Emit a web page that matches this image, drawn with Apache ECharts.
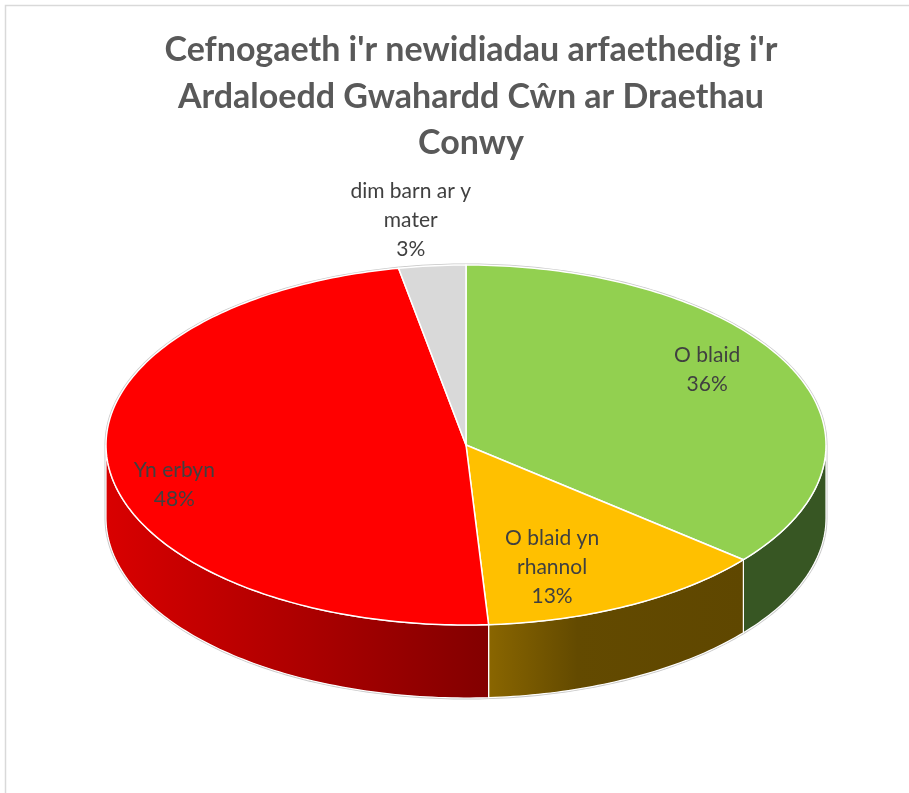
<!DOCTYPE html>
<html><head><meta charset="utf-8">
<script src="https://cdn.jsdelivr.net/npm/echarts@6/dist/echarts.min.js"></script>
<style>html,body{margin:0;padding:0;background:#fff}#c{width:909px;height:793px}</style>
</head><body><div id="c"></div>
<script>
// ---- data ----
const titleText = "Cefnogaeth i'r newidiadau arfaethedig i'r\nArdaloedd Gwahardd Cŵn ar Draethau\nConwy";
const categories = ['O blaid', 'O blaid yn rhannol', 'Yn erbyn', 'dim barn ar y mater'];
const labelTexts = ['O blaid', 'O blaid yn\nrhannol', 'Yn erbyn', 'dim barn ar y\nmater'];
const values = [36, 13, 48, 3];

// ---- styles / layout ----
const topColors = ['#92D050', '#FFC000', '#FF0000', '#D9D9D9'];
const sideFills = [
  '#375623',
  {type:'linear', x:0, y:0, x2:1, y2:0, colorStops:[{offset:0,color:'#8A6600'},{offset:0.35,color:'#634A00'},{offset:1,color:'#5F4700'}]},
  {type:'linear', x:0, y:0, x2:1, y2:0, colorStops:[{offset:0,color:'#D90000'},{offset:1,color:'#820000'}]},
  '#A6A6A6'
];
// label anchor: [angle from top clockwise (deg), radius fraction]
const labelAnchor = [[58, 0.79], [160.6, 0.72], [254.7, 0.84], [353, 1.26]];
const cx = 466, cy = 445, rx = 360, ry = 180, depth = 73;

const total = values.reduce((s, v) => s + v, 0);
const starts = [], ends = [];
let acc = 0;
values.forEach(v => { starts.push(acc / total * 360); acc += v; ends.push(acc / total * 360); });

function P(tDeg, dy, grow) {
  const g = grow || 0, t = tDeg * Math.PI / 180;
  return [cx + (rx + g) * Math.sin(t), cy - (ry + g) * Math.cos(t) + (dy || 0)];
}
function arc(a, b, dy, grow) {
  const pts = [];
  const n = Math.max(2, Math.ceil(Math.abs(b - a)));
  for (let j = 0; j <= n; j++) pts.push(P(a + (b - a) * j / n, dy, grow));
  return pts;
}

const chart = echarts.init(document.getElementById('c'), null, {renderer: 'canvas'});
chart.setOption({
  backgroundColor: '#fff',
  animation: false,
  title: {
    text: titleText, left: 466, top: 22, textAlign: 'center',
    textStyle: {fontFamily: 'Lato', fontWeight: 'bold', fontSize: 34, color: '#595959', lineHeight: 46.5}
  },
  graphic: [{
    type: 'rect', silent: true, z: -10,
    shape: {x: 5.5, y: 5.5, width: 1000, height: 1000},
    style: {fill: null, stroke: '#D9D9D9', lineWidth: 1.5}
  }],
  series: [
    {
      type: 'custom', coordinateSystem: 'none', z: 1, data: values,
      renderItem: function (params) {
        const i = params.dataIndex, children = [];
        if (i === 0) {
          children.push({type: 'polygon', z2: -1, shape: {points: arc(-90, 90, 0, 1.5).concat(arc(90, 270, depth, 1.5))},
            style: {fill: '#C8C8C8'}});
        }
        const s = Math.max(starts[i], 90), e = Math.min(ends[i], 270);
        if (e > s) {
          children.push({type: 'polygon', shape: {points: arc(s, e, 0).concat(arc(e, s, depth))},
            style: {fill: sideFills[i], stroke: '#fff', lineWidth: 1.2}});
        }
        return {type: 'group', children: children};
      }
    },
    {
      type: 'custom', coordinateSystem: 'none', z: 2, data: values,
      renderItem: function (params) {
        const i = params.dataIndex;
        const pts = [[cx, cy]].concat(arc(starts[i], ends[i], 0));
        const la = labelAnchor[i];
        const lp = [cx + rx * la[1] * Math.sin(la[0] * Math.PI / 180), cy - ry * la[1] * Math.cos(la[0] * Math.PI / 180)];
        return {type: 'group', children: [
          {type: 'polygon', shape: {points: pts}, style: {fill: topColors[i], stroke: '#fff', lineWidth: 1.5}},
          {type: 'text', z2: 10, x: lp[0], y: lp[1], style: {
            text: labelTexts[i] + '\n' + Math.round(values[i] / total * 100) + '%',
            fill: '#404040', fontFamily: 'Lato', fontSize: 21, lineHeight: 29,
            align: 'center', verticalAlign: 'middle'}}
        ]};
      }
    }
  ]
});
</script>
</body></html>
